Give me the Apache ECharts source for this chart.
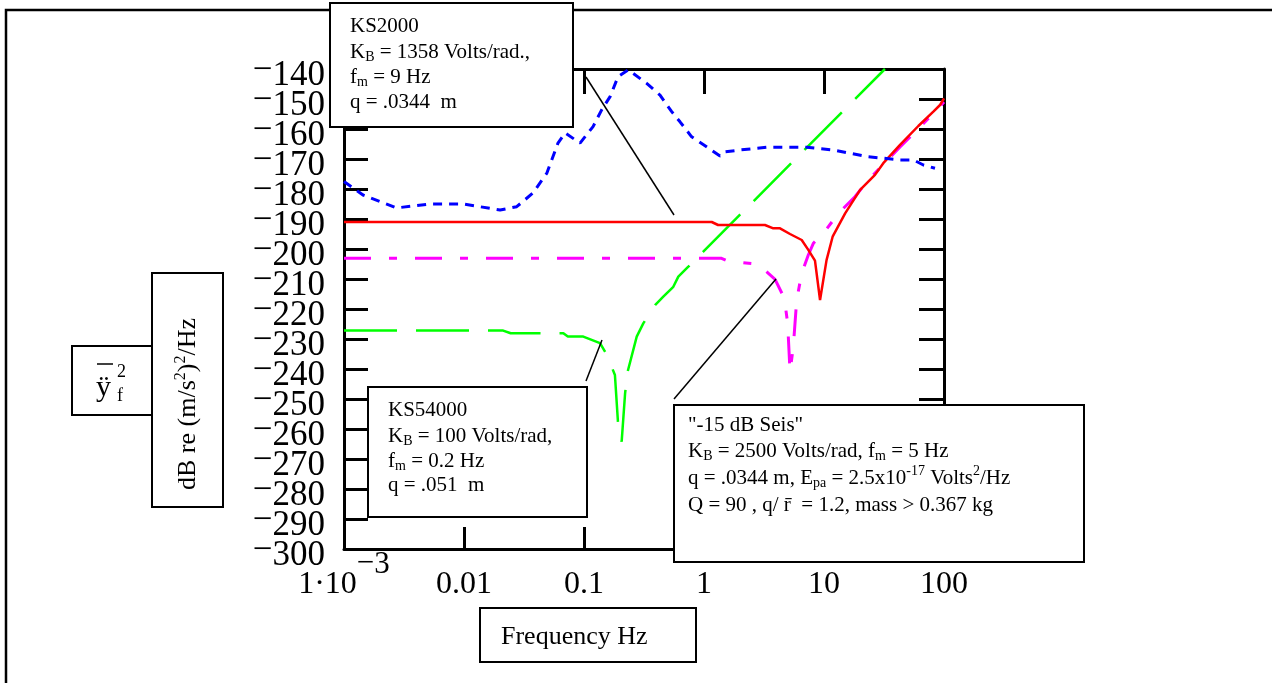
<!DOCTYPE html>
<html>
<head>
<meta charset="utf-8">
<script src="https://cdn.jsdelivr.net/npm/echarts@6/dist/echarts.min.js"></script>
<style>
  html, body { margin: 0; padding: 0; background: #fff; }
  #chart { width: 1272px; height: 683px; }
</style>
</head>
<body>
<div id="chart"></div>
<script>
const FONT = 'Liberation Serif';

// KS2000 (red, solid): frequency in Hz, level in dB
const ks2000Freq = [0.001, 1.16, 1.31, 3.22, 3.78, 4.30, 5.21, 6.52, 7.40, 8.41, 9.27, 10.5, 11.8, 15.0, 20.0, 26.6, 31.2, 43.0, 61.1, 81.5, 92.7, 100];
const ks2000Db   = [-191, -191, -192, -192, -193.1, -193.1, -195, -197, -200.3, -203.9, -217, -203.7, -195.9, -188.1, -180.3, -175.3, -171.4, -165.3, -159, -154.2, -152, -149.8];

// Background noise (blue, dotted)
const noiseFreq = [0.001, 0.00144, 0.00275, 0.00521, 0.00982, 0.0200, 0.0275, 0.0376, 0.0489, 0.0607, 0.0695, 0.0927, 0.119, 0.140, 0.165, 0.192, 0.234, 0.333, 0.430, 0.538, 0.631, 0.789, 1.05, 1.36, 1.50, 2.0, 3.33, 7.18, 12.0, 22.7, 43.0, 55.5, 67.3, 84.1];
const noiseDb   = [-177.5, -182, -186.3, -185, -185, -187, -185.9, -181.3, -174.8, -164.7, -161.3, -164.7, -159.2, -153.7, -149.2, -142.6, -140.3, -144.8, -148.7, -154.2, -157.6, -162.6, -165.9, -169, -167.6, -167, -166.1, -166.1, -167, -169.2, -170.3, -170.3, -172, -173.1];

// KS54000 (green, long dash)
const ks54000Freq = [0.001, 0.0212, 0.0245, 0.0673, 0.0733, 0.0986, 0.136, 0.155, 0.181, 0.193, 0.206, 0.220, 0.231, 0.275, 0.312, 0.391, 0.458, 0.555, 0.611, 0.740, 0.986, 32.2];
const ks54000Db   = [-227.2, -227.2, -228.1, -228.1, -229.2, -229.2, -231.4, -235.3, -242, -259.2, -264.2, -248.1, -240.9, -229.2, -224.8, -218.7, -215.9, -212.6, -209.2, -205.9, -200.9, -140];

// "-15 dB Seis" (magenta, dash-dot)
const seisFreq = [0.001, 1.40, 1.58, 2.82, 3.91, 4.67, 4.98, 5.21, 5.55, 5.92, 6.52, 7.40, 8.15, 9.86, 13.2, 18.1, 23.4, 43.0, 86.9, 100];
const seisDb   = [-203.1, -203.1, -204, -205.1, -210.1, -216.4, -224.8, -240.9, -232.6, -217, -208.1, -202, -198.1, -194.8, -188.1, -182.6, -177, -166, -153.7, -151];

// decade tick labels, keyed by exponent
const xTickLabels = { '-3': '1·10', '-2': '0.01', '-1': '0.1', '0': '1', '1': '10', '2': '100' };
const xExponentLabel = '3';

// level axis range and step (dB)
const yMin = -300;
const yMax = -140;
const yStep = 10;

const pairs = (xs, ys) => xs.map((x, i) => [x, ys[i]]);

const chart = echarts.init(document.getElementById('chart'));

const axisLineStyle = { color: '#000', width: 3 };
const tickStyle = { color: '#000', width: 3 };

const boxRich = {
  sub: { fontSize: 14, fontFamily: FONT, padding: [10, 0, 0, 0] },
  sup: { fontSize: 14, fontFamily: FONT, padding: [0, 0, 14, 0] }
};

// y tick label: raised minus sign followed by the magnitude
const yLabelStyle = {
  show: true, margin: 19, color: '#000', fontFamily: FONT, fontSize: 35, lineHeight: 22,
  hideOverlap: false,
  formatter: v => '{m|−}{n|' + Math.abs(v) + '}',
  rich: {
    m: { fontSize: 35, fontFamily: FONT, height: 12, lineHeight: 22, padding: [4, 0, 0, 0] },
    n: { fontSize: 35, fontFamily: FONT, height: 12, lineHeight: 22, padding: [13, 0, 0, 0] }
  }
};

function box(x, y, w, h) {
  return { type: 'rect', z: 100, shape: { x, y, width: w, height: h },
    style: { fill: '#fff', stroke: '#000', lineWidth: 2 } };
}
function seg(x1, y1, x2, y2, w) {
  return { type: 'line', z: 101, shape: { x1, y1, x2, y2 },
    style: { stroke: '#000', lineWidth: w || 1.5 } };
}
function txt(x, y, text, size, extra) {
  return Object.assign({ type: 'text', z: 102, x, y,
    style: { text, fontSize: size || 21, fontFamily: FONT, fill: '#000',
      align: 'left', verticalAlign: 'middle', rich: boxRich } }, extra || {});
}

const option = {
  animation: false,
  backgroundColor: '#fff',
  grid: { left: 344, top: 69, width: 600, height: 480, containLabel: false },
  xAxis: [
    {
      type: 'log', logBase: 10, min: 0.001, max: 100, position: 'bottom',
      axisLine: { show: true, lineStyle: axisLineStyle },
      axisTick: { show: true, inside: true, length: 22, lineStyle: tickStyle },
      splitLine: { show: false },
      axisLabel: {
        show: true, margin: -8, color: '#000', fontFamily: FONT, fontSize: 32,
        showMinLabel: true, showMaxLabel: true, hideOverlap: false,
        formatter: v => {
          const e = Math.round(Math.log10(v));
          if (e === -3) return '{n|' + xTickLabels[e] + '}{em|−}{e|' + xExponentLabel + '}';
          return '{n|' + xTickLabels[e] + '}';
        },
        rich: {
          n: { fontSize: 32, fontFamily: FONT, lineHeight: 60, verticalAlign: 'bottom' },
          em: { fontSize: 31, fontFamily: FONT, lineHeight: 60, verticalAlign: 'top', padding: [7, 0, 0, 0] },
          e: { fontSize: 31, fontFamily: FONT, lineHeight: 60, verticalAlign: 'top', padding: [8, 0, 0, 0] }
        }
      }
    },
    {
      type: 'log', logBase: 10, min: 0.001, max: 100, position: 'top',
      axisLine: { show: true, lineStyle: axisLineStyle },
      axisTick: { show: true, inside: true, length: 25, lineStyle: tickStyle },
      splitLine: { show: false },
      axisLabel: { show: false }
    }
  ],
  yAxis: [
    {
      // main level axis: line, every tick, inner labels
      type: 'value', min: yMin, max: yMax, interval: yStep, position: 'left',
      axisLine: { show: true, lineStyle: axisLineStyle },
      axisTick: { show: true, inside: true, length: 24, lineStyle: tickStyle },
      splitLine: { show: false },
      axisLabel: Object.assign({}, yLabelStyle, { showMinLabel: false, showMaxLabel: false })
    },
    {
      type: 'value', min: yMin, max: yMax, interval: yStep, position: 'right',
      axisLine: { show: true, lineStyle: axisLineStyle },
      axisTick: { show: true, inside: true, length: 25, lineStyle: tickStyle },
      splitLine: { show: false },
      axisLabel: { show: false }
    },
    {
      // end labels of the level axis
      type: 'value', min: yMin, max: yMax, interval: yMax - yMin, position: 'left',
      axisLine: { show: false },
      axisTick: { show: false },
      splitLine: { show: false },
      axisLabel: Object.assign({}, yLabelStyle, { showMinLabel: true, showMaxLabel: true })
    }
  ],
  series: [
    {
      name: 'KS54000', type: 'line', xAxisIndex: 0, yAxisIndex: 0,
      data: pairs(ks54000Freq, ks54000Db), showSymbol: false, clip: true,
      lineStyle: { color: '#00ff00', width: 2.5, type: [53, 19] }
    },
    {
      name: '-15 dB Seis', type: 'line', xAxisIndex: 0, yAxisIndex: 0,
      data: pairs(seisFreq, seisDb), showSymbol: false, clip: true,
      lineStyle: { color: '#ff00ff', width: 3, type: [27, 18, 8, 18] }
    },
    {
      name: 'KS2000', type: 'line', xAxisIndex: 0, yAxisIndex: 0,
      data: pairs(ks2000Freq, ks2000Db), showSymbol: false, clip: true,
      lineStyle: { color: '#ff0000', width: 2.5, type: 'solid' }
    },
    {
      name: 'noise', type: 'line', xAxisIndex: 0, yAxisIndex: 0,
      data: pairs(noiseFreq, noiseDb), showSymbol: false, clip: true,
      lineStyle: { color: '#0000ff', width: 3, type: [9, 7] }
    }
  ],
  graphic: {
    elements: [
      // outer frame
      { type: 'polyline', z: 99, shape: { points: [[6, 683], [6, 10], [1272, 10]] },
        style: { stroke: '#000', lineWidth: 2.5, fill: null } },

      // leader lines
      seg(586, 77, 674, 215),
      seg(586, 381, 602, 340),
      seg(674, 399, 776, 279),

      // KS2000 note
      box(330, 3, 243, 124),
      txt(350, 26, 'KS2000'),
      txt(350, 52, 'K{sub|B} = 1358 Volts/rad.,'),
      txt(350, 77, 'f{sub|m} = 9 Hz'),
      txt(350, 102, 'q = .0344  m'),

      // KS54000 note
      box(368, 387, 219, 130),
      txt(388, 410, 'KS54000'),
      txt(388, 436, 'K{sub|B} = 100 Volts/rad,'),
      txt(388, 461, 'f{sub|m} = 0.2 Hz'),
      txt(388, 485, 'q = .051  m'),

      // -15 dB Seis note
      box(674, 405, 410, 157),
      txt(688, 425, '"-15 dB Seis"'),
      txt(688, 451, 'K{sub|B} = 2500 Volts/rad, f{sub|m} = 5 Hz'),
      txt(688, 478, 'q = .0344 m, E{sub|pa} = 2.5x10{sup|-17} Volts{sup|2}/Hz'),
      txt(688, 505, 'Q = 90 , q/ r\u0304  = 1.2, mass > 0.367 kg'),

      // x axis title
      box(480, 608, 216, 54),
      txt(501, 637, 'Frequency Hz', 26),

      // y axis titles
      box(72, 346, 80, 69),
      txt(96, 388, 'ÿ', 30),
      seg(97, 364, 113, 364, 1.5),
      txt(117, 372, '2', 18),
      txt(117, 396, 'f', 18),
      box(152, 273, 71, 234),
      {
        type: 'text', z: 102, x: 188, y: 404, rotation: Math.PI / 2,
        style: {
          text: 'dB re (m/s{sup|2}){sup|2}/Hz', fontSize: 26, fontFamily: FONT, fill: '#000',
          align: 'center', verticalAlign: 'middle',
          rich: { sup: { fontSize: 16, fontFamily: FONT, padding: [0, 0, 14, 0] } }
        }
      }
    ]
  }
};

chart.setOption(option);
</script>
</body>
</html>
